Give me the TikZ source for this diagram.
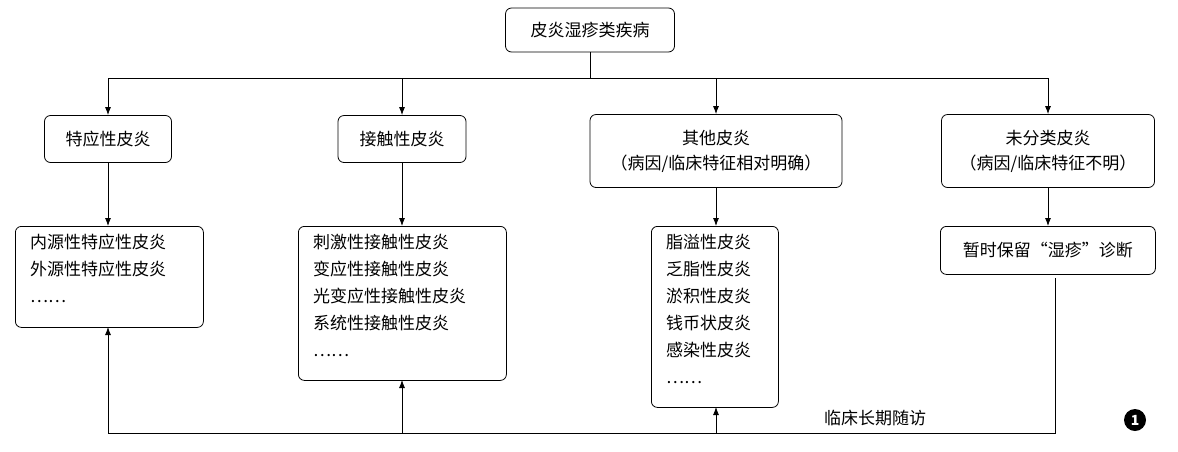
\documentclass[tikz,border=0pt]{standalone}
\usepackage{fontspec}
\setmainfont{Noto Sans CJK SC}
\usetikzlibrary{arrows.meta}
\begin{document}
\begin{tikzpicture}[x=1pt,y=-1pt,
 box/.style={draw,thick,rounded corners=6pt,inner sep=0pt,font=\fontsize{17}{25}\selectfont},
 lst/.style={align=left,anchor=north west,font=\fontsize{17}{27}\selectfont,inner sep=0pt},
 ln/.style={thick},
 arr/.style={thick,-{Latex[length=8pt,width=6pt]}}]
\useasboundingbox (0,0) rectangle (1178,451);
\node[box,minimum width=169,minimum height=44] (top) at (590,30) {皮炎湿疹类疾病};
\node[box,minimum width=127,minimum height=47] (a) at (108,139) {特应性皮炎};
\node[box,minimum width=128,minimum height=47] (b) at (402,139) {接触性皮炎};
\node[box,minimum width=252,minimum height=73,align=center] (c) at (716,151) {其他皮炎\\（病因/临床特征相对明确）};
\node[box,minimum width=213,minimum height=73,align=center] (d) at (1048,151) {未分类皮炎\\（病因/临床特征不明）};
\node[box,minimum width=188,minimum height=101,anchor=north west] (a2) at (15,226) {};
\node[lst] (a2t) at (30,234) {内源性特应性皮炎\\外源性特应性皮炎\\……};
\node[box,minimum width=208,minimum height=154,anchor=north west] (b2) at (298,226) {};
\node[lst] (b2t) at (313,234) {刺激性接触性皮炎\\变应性接触性皮炎\\光变应性接触性皮炎\\系统性接触性皮炎\\……};
\node[box,minimum width=127,minimum height=181,anchor=north west] (c2) at (651,226) {};
\node[lst] (c2t) at (666,234) {脂溢性皮炎\\乏脂性皮炎\\淤积性皮炎\\钱币状皮炎\\感染性皮炎\\……};
\node[box,minimum width=215,minimum height=48,anchor=north west] (d2) at (940,226) {暂时保留“湿疹”诊断};
\draw[ln] (top.south) -- (590,78);
\draw[ln] (108,78) -- (1048,78);
\foreach \n/\x in {a/108,b/402,c/716,d/1048} \draw[arr] (\x,78) -- (\n.north);
\draw[arr] (a.south) -- (a2.north -| a.south);
\draw[arr] (b.south) -- (b2.north -| b.south);
\draw[arr] (c.south) -- (c2.north -| c.south);
\draw[arr] (d.south) -- (d2.north -| d.south);
\coordinate (s) at (1055,278);
\coordinate (e) at (1055,433);
\draw[ln] (s) -- (e) -- (108,433);
\draw[arr] (108,433) -- (108,327);
\draw[arr] (402,433) -- (402,380);
\draw[arr] (716,433) -- (716,407);
\node[font=\fontsize{17}{20}\selectfont] (lab) at (875,418) {临床长期随访};
\node[circle,fill=black,text=white,inner sep=0pt,minimum size=22pt,font=\bfseries\fontsize{14}{14}\selectfont] (num) at (1135,420) {1};
\end{tikzpicture}
\end{document}
